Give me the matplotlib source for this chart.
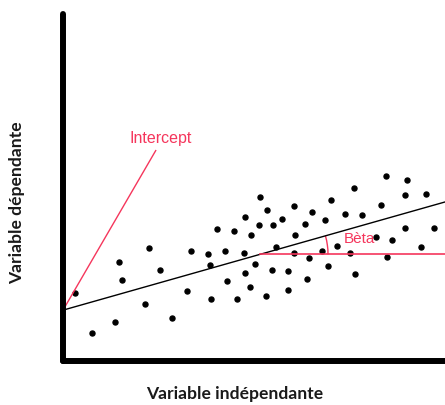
import numpy as np
import matplotlib.pyplot as plt
from matplotlib.patches import Arc

# scatter points (units, origin at the axes corner)
x_pts = [11.7, 56.3, 86, 59.3, 97, 123.7, 82.3, 51.7, 28.7, 109,
         197, 231, 204.3, 182.3, 195.7, 210.3, 219, 242, 154, 171.3,
         188, 232.3, 127.7, 144.7, 161.7, 181, 213, 231.3, 246.3, 147,
         192, 182.3, 209, 225, 244.3, 164, 187, 225, 148, 173.7,
         203, 322.7, 344.3, 290.7, 342, 362.7, 267.7, 317.7, 249.3, 282.3,
         299.3, 261.7, 342, 371.3, 313, 328.7, 273.7, 259, 287, 358,
         323.7, 265.3, 292]
y_pts = [68, 99.7, 113, 81.3, 91.3, 70.7, 57, 38.7, 27.7, 42.7,
         164.3, 155.7, 151.7, 144.7, 136.3, 136.3, 142.3, 137.3, 132.3, 130,
         126, 126.3, 110.7, 107, 110.7, 108.3, 114.3, 108.3, 103.3, 96,
         97.3, 88.7, 91.3, 90, 82.7, 80.3, 74, 71.7, 62, 62,
         65.3, 186, 181.3, 174, 166.7, 167.7, 161.7, 156.7, 149.3, 147,
         146, 141, 133.7, 133.7, 124, 121.3, 115.3, 110.7, 108, 114.3,
         104.3, 95.7, 87.3]

intercept = 51
slope = 0.284
beta_x0 = 197
intercept_label_end = (92.7, 211)

red = '#f5365c'
xmax, ymax = 382, 348

fig = plt.figure(figsize=(4.45, 4.05), dpi=100)
ax = fig.add_axes([63/445, 44/405, 382/445, 347/405])

ax.plot(x_pts, y_pts, 'o', color='black', markersize=3.6)

xs = np.array([0, xmax])
ax.plot(xs, intercept + slope*xs, color='black', lw=1)

# intercept annotation
ax.plot([0, intercept_label_end[0]], [intercept, intercept_label_end[1]], color=red, lw=1)
ax.text(97.5, 223.5, "Intercept", color=red, fontsize=11.5, family='Liberation Sans',
        ha='center', va='center')

# beta angle
y0 = intercept + slope*beta_x0
ax.plot([beta_x0, xmax], [y0, y0], color=red, lw=1.2)
ang = np.degrees(np.arctan(slope))
ax.add_patch(Arc((beta_x0, y0), 136, 136, theta1=0, theta2=ang, color=red, lw=1))
ax.text(296, 122, "Bèta", color=red, fontsize=11, family='Liberation Sans',
        ha='center', va='center')

ax.set_xlim(0, xmax)
ax.set_ylim(0, ymax)
ax.set_xticks([])
ax.set_yticks([])
for s in ['top', 'right']:
    ax.spines[s].set_visible(False)
for s in ['left', 'bottom']:
    ax.spines[s].set_linewidth(4.3)
    ax.spines[s].set_capstyle('round')

fig.text(17/445, 1 - 203/405, "Variable dépendante", rotation=90, fontsize=12.6,
         fontweight='bold', family='Lato', color='#1a1a1a', ha='center', va='center')
fig.text(235/445, 1 - 394/405, "Variable indépendante", fontsize=12.6,
         fontweight='bold', family='Lato', color='#1a1a1a', ha='center', va='center')

fig.savefig('out.png', dpi=100)
